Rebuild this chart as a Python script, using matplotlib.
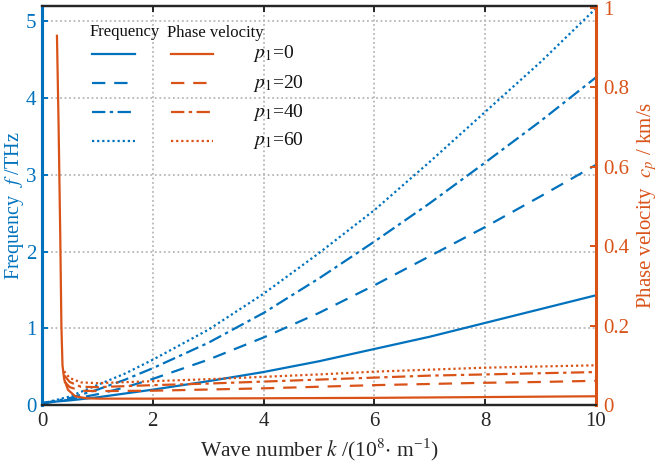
import matplotlib
matplotlib.use("Agg")
import matplotlib.pyplot as plt
from matplotlib.lines import Line2D

plt.rcParams['font.family'] = ['Liberation Serif', 'DejaVu Serif']
plt.rcParams['mathtext.fontset'] = 'stix'

BLUE = '#0072BD'
ORANGE = '#D95319'

# Frequency (THz) vs wave number k (1e8 m^-1)
k_f = [0, 0.5, 1, 1.5, 2, 3, 4, 5, 6, 7, 8, 9, 10]
f_p0 = [0.03, 0.06, 0.10, 0.15, 0.20, 0.31, 0.43, 0.57, 0.73, 0.89, 1.07, 1.25, 1.43]
f_p20 = [0.02, 0.07, 0.14, 0.23, 0.34, 0.59, 0.88, 1.20, 1.56, 1.94, 2.32, 2.72, 3.13]
f_p40 = [0.02, 0.09, 0.20, 0.33, 0.48, 0.81, 1.20, 1.65, 2.13, 2.63, 3.16, 3.70, 4.27]
f_p60 = [0.02, 0.11, 0.26, 0.41, 0.59, 0.98, 1.45, 1.98, 2.54, 3.17, 3.82, 4.47, 5.17]

# Phase velocity (km/s)
k_c0 = [0.27, 0.30, 0.33, 0.35, 0.37, 0.40, 0.47, 0.6, 0.8, 1.0, 2, 4, 6, 8, 10]
c_p0 = [0.93, 0.70, 0.42, 0.20, 0.10, 0.065, 0.038, 0.022, 0.017, 0.016, 0.016, 0.017, 0.018, 0.020, 0.022]
k_c = [0.40, 0.5, 0.7, 1, 2, 3, 4, 5, 6, 7, 8, 9, 10]
c_p20 = [0.060, 0.045, 0.036, 0.035, 0.036, 0.039, 0.042, 0.046, 0.050, 0.053, 0.056, 0.058, 0.061]
c_p40 = [0.075, 0.058, 0.046, 0.045, 0.050, 0.054, 0.059, 0.064, 0.069, 0.074, 0.077, 0.080, 0.083]
c_p60 = [0.085, 0.068, 0.057, 0.055, 0.060, 0.065, 0.071, 0.077, 0.084, 0.089, 0.094, 0.097, 0.100]

labels = ['$p_1$=0', '$p_1$=20', '$p_1$=40', '$p_1$=60']
styles = ['-', (0, (6, 4)), (0, (6, 2, 1.5, 2)), (0, (1, 1.3))]

fig = plt.figure(figsize=(6.61, 4.68), dpi=100)
ax = fig.add_axes([42/661, 1-405/468, 554/661, 399/468])
ax2 = ax.twinx()

lw = 1.6
for fv, ls in zip([f_p0, f_p20, f_p40, f_p60], styles):
    ax.plot(k_f, fv, color=BLUE, lw=lw, linestyle=ls)
for kk, cv, ls in zip([k_c0, k_c, k_c, k_c], [c_p0, c_p20, c_p40, c_p60], styles):
    ax2.plot(kk, cv, color=ORANGE, lw=lw, linestyle=ls)

ax.set_xlim(0, 10)
ax.set_ylim(0, 5.2)
ax2.set_ylim(0, 1.005)
ax.set_xticks([0, 2, 4, 6, 8, 10])
ax.set_yticks([0, 1, 2, 3, 4, 5])
ax2.set_yticks([0, 0.2, 0.4, 0.6, 0.8, 1.0])
ax2.set_yticklabels(['0', '0.2', '0.4', '0.6', '0.8', '1'])

ax.grid(True, linestyle=(0, (1, 1.5)), color='#b8b8b8', lw=1.3)

ax.tick_params(axis='x', direction='in', top=True, length=4, width=1.4, labelsize=15, colors='#262626', pad=5)
ax.tick_params(axis='y', direction='in', length=4, width=1.4, labelsize=15, colors=BLUE, pad=4)
ax2.tick_params(axis='y', direction='in', length=4, width=1.4, labelsize=15, colors=ORANGE, pad=5)

for a in (ax, ax2):
    a.spines['top'].set_color('#262626')
    a.spines['bottom'].set_color('#262626')
    a.spines['top'].set_linewidth(1.6)
    a.spines['bottom'].set_linewidth(1.6)
ax2.spines['left'].set_color(BLUE)
ax2.spines['left'].set_linewidth(2.2)
ax2.spines['right'].set_color(ORANGE)
ax2.spines['right'].set_linewidth(2.2)
ax.spines['left'].set_color(BLUE)
ax.spines['left'].set_linewidth(2.2)
ax.spines['right'].set_visible(False)

ax.set_xlabel(r'Wave number $k$ /(10$^8$$\cdot$ m$^{\mathregular{-1}}$)', fontsize=15.5, color='#262626', labelpad=4)
ax.set_ylabel(r'Frequency  $f$ /THz', fontsize=14.5, color=BLUE)
ax.yaxis.set_label_coords(-0.028, 0.5)
ax2.set_ylabel(r'Phase velocity  $c_p$ / km/s', fontsize=15, color=ORANGE, labelpad=4)

# Custom legend
tr = ax.transAxes
ax.text(0.085, 0.935, 'Frequency', transform=tr, fontsize=12, va='center', ha='left', color='#111111')
ax.text(0.225, 0.932, 'Phase velocity', transform=tr, fontsize=12, va='center', ha='left', color='#111111')
rows = [0.880, 0.807, 0.734, 0.662]
for y, ls, lab in zip(rows, styles, labels):
    ax.add_line(Line2D([0.090, 0.168], [y, y], transform=tr, color=BLUE, lw=lw, linestyle=ls))
    ax.add_line(Line2D([0.233, 0.309], [y, y], transform=tr, color=ORANGE, lw=lw, linestyle=ls))
    ax.text(0.381, y, lab, transform=tr, fontsize=14, va='center', ha='left', color='#111111')

fig.savefig('out.png', dpi=100)
